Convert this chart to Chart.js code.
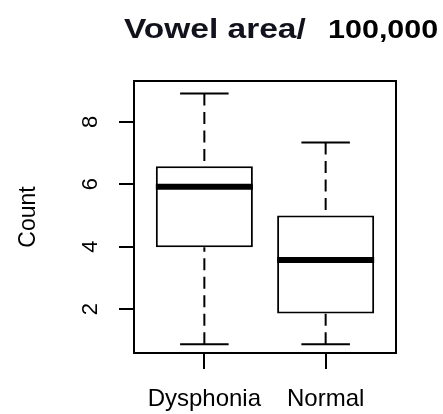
<!DOCTYPE html>
<html>
<head>
<meta charset="utf-8">
<script src="https://cdn.jsdelivr.net/npm/chart.js@4.4.0/dist/chart.umd.min.js"></script>
<style>
  html, body { margin: 0; padding: 0; background: #fff; }
  #wrap { width: 443px; height: 414px; }
</style>
</head>
<body>
<div id="wrap"><canvas id="chart" width="443" height="414"></canvas></div>
<script>
// groups + five number summary
const groups = ['Dysphonia', 'Normal'];
const whiskerLow = [0.87, 0.87];
const boxLow = [3.98, 1.86];
const medians = [5.92, 3.57];
const boxHigh = [6.58, 5.00];
const whiskerHigh = [8.91, 7.34];
const yTicks = [2, 4, 6, 8];
const yLabel = 'Count';
const titleMain = 'Vowel area/';
const titleUnit = '100,000';

const BOX_HALF = 0.4, CAP_HALF = 0.2;
const ink = '#000';
const family = '"Liberation Sans", Arial, sans-serif';

// one straight segment as a line dataset
function seg(x0, y0, x1, y1, opts) {
  return Object.assign({
    type: 'line',
    data: [{x: x0, y: y0}, {x: x1, y: y1}],
    borderColor: ink, borderWidth: 2, pointRadius: 0, fill: false, order: 1
  }, opts);
}

const datasets = [{
  type: 'bar',
  data: groups.map((g, i) => ({x: i + 1, y: [boxLow[i], boxHigh[i]]})),
  backgroundColor: '#fff', borderColor: ink, borderWidth: 2, borderSkipped: false,
  barPercentage: 0.8, categoryPercentage: 1, grouped: false, order: 2
}];
groups.forEach((g, i) => {
  const x = i + 1;
  datasets.push(seg(x - BOX_HALF, medians[i], x + BOX_HALF, medians[i], {borderWidth: 6}));
  datasets.push(seg(x, whiskerHigh[i], x, boxHigh[i], {borderDash: [12, 6.5]}));
  datasets.push(seg(x, whiskerLow[i], x, boxLow[i], {borderDash: [12, 6.5]}));
  datasets.push(seg(x - CAP_HALF, whiskerHigh[i], x + CAP_HALF, whiskerHigh[i]));
  datasets.push(seg(x - CAP_HALF, whiskerLow[i], x + CAP_HALF, whiskerLow[i]));
});

// box around plot region
const frame = {
  id: 'frame',
  afterDatasetsDraw(chart) {
    const {ctx, chartArea: a} = chart;
    ctx.save();
    ctx.strokeStyle = ink;
    ctx.lineWidth = 2;
    ctx.strokeRect(a.left, a.top, a.width, a.height);
    ctx.restore();
  }
};

// title is two pieces, stretched a bit wide like the original
const heading = {
  id: 'heading',
  afterDraw(chart) {
    const ctx = chart.ctx;
    ctx.save();
    ctx.textBaseline = 'alphabetic';
    ctx.textAlign = 'left';
    ctx.fillStyle = '#12121c';
    ctx.font = 'bold 27px ' + family;
    ctx.translate(124, 37.5);
    ctx.scale(1.24, 1);
    ctx.fillText(titleMain, 0, 0);
    ctx.restore();
    ctx.save();
    ctx.fillStyle = ink;
    ctx.font = 'bold 25px ' + family;
    ctx.translate(328, 37.5);
    ctx.scale(1.22, 1);
    ctx.fillText(titleUnit, 0, 0);
    ctx.restore();
  }
};

new Chart(document.getElementById('chart'), {
  type: 'bar',
  data: { datasets },
  options: {
    responsive: false,
    animation: false,
    layout: { padding: { top: 81, right: 47, left: 0, bottom: 0 } },
    plugins: { legend: { display: false }, tooltip: { enabled: false } },
    scales: {
      x: {
        type: 'linear', min: 0.42, max: 2.58, offset: false,
        afterBuildTicks: s => { s.ticks = groups.map((g, i) => ({value: i + 1})); },
        ticks: {
          callback: v => groups[v - 1], color: ink, autoSkip: false, maxRotation: 0,
          font: { family, size: 24 }, padding: 16
        },
        grid: { offset: false, drawOnChartArea: false, drawTicks: true, tickLength: 16, color: ink, lineWidth: 2 },
        border: { display: false },
        afterFit: s => { s.height = 61; }
      },
      y: {
        type: 'linear', min: 0.59, max: 9.31,
        afterBuildTicks: s => { s.ticks = yTicks.map(v => ({value: v})); },
        ticks: {
          color: ink, minRotation: 90, maxRotation: 90, crossAlign: 'center',
          font: { family, size: 22 }, padding: 22
        },
        grid: { drawOnChartArea: false, drawTicks: true, tickLength: 15, color: ink, lineWidth: 2 },
        border: { display: false },
        title: {
          display: true, text: yLabel, color: ink,
          font: { family, size: 23 }, padding: { top: 15, bottom: 0 }
        },
        afterFit: s => { s.width = 134; }
      }
    }
  },
  plugins: [frame, heading]
});
</script>
</body>
</html>
